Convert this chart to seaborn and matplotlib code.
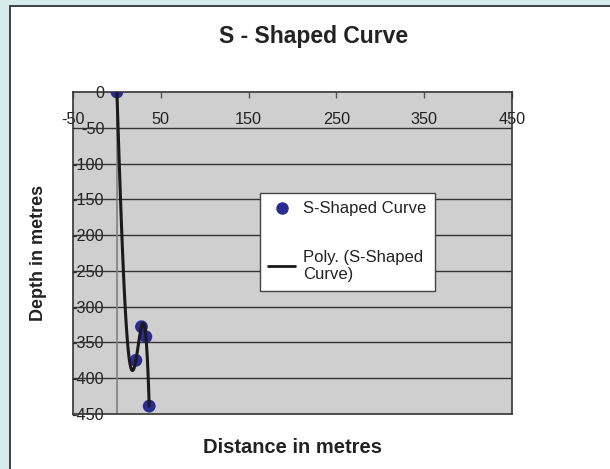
import numpy as np
import pandas as pd
import matplotlib
matplotlib.use("Agg")
import matplotlib.pyplot as plt
from matplotlib.patches import Rectangle
from matplotlib.lines import Line2D
import seaborn as sns

# ---- data ----
distance = [0, 28, 33, 21.6, 36.8]
depth = [0, -328, -342, -375, -439]
series_name = "S-Shaped Curve"
trend_name = "Poly. (S-Shaped\nCurve)"
x_ticks = [-50, 50, 150, 250, 350, 450]
y_ticks = [0, -50, -100, -150, -200, -250, -300, -350, -400, -450]

df = pd.DataFrame({"Distance": distance, "Depth": depth})

sns.set_theme(style="white")
plt.rcParams["font.family"] = ["Liberation Sans", "DejaVu Sans"]

W, H = 610, 469
fig = plt.figure(figsize=(W / 100, H / 100), dpi=100, facecolor="#d6ecec")

# white chart area with border
fig.patches.append(Rectangle((10 / W, -0.1), 1.2, 1 - 6 / H + 0.1,
                             transform=fig.transFigure, facecolor="white",
                             edgecolor="#333333", linewidth=1.3, zorder=-10))

left, right, top, bottom = 73, 512, 92, 414
ax = fig.add_axes([left / W, 1 - bottom / H, (right - left) / W, (bottom - top) / H])
ax.set_facecolor("#cfcfcf")

sns.regplot(data=df, x="Distance", y="Depth", order=4, ci=None, ax=ax,
            scatter_kws=dict(s=85, color="#2b2b92", edgecolors="none", alpha=1, zorder=3),
            line_kws=dict(color="#1a1a1a", lw=2.2, zorder=4))

ax.set_xlim(-50, 450)
ax.set_ylim(-450, 0)

# gridlines and y axis at x=0
for yv in y_ticks[1:-1]:
    ax.axhline(yv, color="#333333", lw=1, zorder=1)
ax.axvline(0, color="#808080", lw=1.2, zorder=1)

for sp in ax.spines.values():
    sp.set_color("#333333")
    sp.set_linewidth(1.2)

ax.set_xticks(x_ticks)
ax.set_xticklabels([str(v) for v in x_ticks])
ax.set_yticks(y_ticks)
ax.set_yticklabels([str(v) for v in y_ticks])
ax.tick_params(axis="x", top=True, bottom=False, labeltop=True, labelbottom=False,
               direction="in", length=4, width=1, color="#555555",
               pad=-25, labelsize=11.7, labelcolor="#222222")
ax.tick_params(axis="y", left=False, right=False, length=0, pad=-22.5,
               labelsize=11.7, labelcolor="#222222")

ax.set_xlabel("Distance in metres", fontsize=14.5, fontweight="bold", color="#222222")
ax.set_ylabel("Depth in metres", fontsize=13, fontweight="bold", color="#222222")
ax.xaxis.set_label_coords(0.5, -0.075)
ax.yaxis.set_label_coords(-0.06, 0.5)

fig.text(313.5 / W, 1 - 36 / H, "S - Shaped Curve", fontsize=16.5, fontweight="bold",
         ha="center", va="center", color="#222222")

handles = [
    Line2D([], [], marker="o", linestyle="none", markersize=9,
           markerfacecolor="#2b2b92", markeredgecolor="none"),
    Line2D([], [], color="#1a1a1a", lw=2),
]
leg = ax.legend(handles, [series_name, trend_name], loc="upper left",
                bbox_to_anchor=(0.426, 0.686), borderaxespad=0, fontsize=12,
                frameon=True, fancybox=False, framealpha=1, edgecolor="#444444",
                labelspacing=2.0, handlelength=1.6, handletextpad=0.5,
                borderpad=0.5)
leg.get_frame().set_linewidth(1)
for t in leg.get_texts():
    t.set_color("#222222")

fig.savefig("out.png", dpi=100, facecolor=fig.get_facecolor())
